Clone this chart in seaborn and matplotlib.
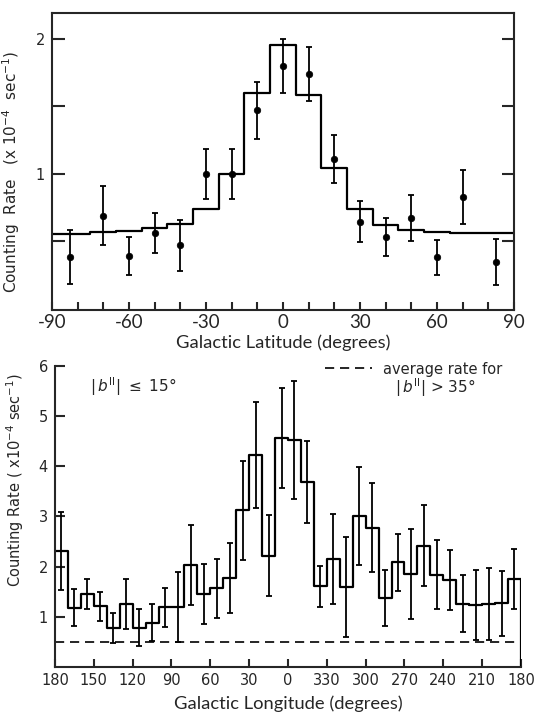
import numpy as np
import matplotlib
matplotlib.use("Agg")
import matplotlib.pyplot as plt
import seaborn as sns
from matplotlib.ticker import FixedLocator, FixedFormatter

# ---------------- data: top panel (galactic latitude) ----------------
lat_edges = [-90, -75, -65, -55, -45, -35, -25, -15, -5, 5, 15, 25, 35, 45, 55, 65, 90]
lat_hist = [0.55, 0.565, 0.575, 0.595, 0.63, 0.74, 1.00, 1.60, 1.95, 1.58, 1.04,
            0.74, 0.62, 0.58, 0.57, 0.56]
lat_pts = [-83, -70, -60, -50, -40, -30, -20, -10, 0, 10, 20, 30, 40, 50, 60, 70, 83]
lat_rate = [0.38, 0.69, 0.39, 0.56, 0.47, 1.00, 1.00, 1.47, 1.80, 1.74, 1.11,
            0.645, 0.53, 0.67, 0.38, 0.83, 0.345]
lat_err = [0.20, 0.22, 0.14, 0.15, 0.19, 0.185, 0.185, 0.21, 0.20, 0.20, 0.18,
           0.15, 0.14, 0.17, 0.13, 0.20, 0.17]
lat_ticks = [-90, -60, -30, 0, 30, 60, 90]

# ---------------- data: bottom panel (galactic longitude) ----------------
lon_centers = [175, 165, 155, 145, 135, 125, 115, 105, 95, 85, 75, 65, 55, 45, 35, 25, 15, 5,
               355, 345, 335, 325, 315, 305, 295, 285, 275, 265, 255, 245, 235, 225, 215, 205,
               195, 185]
lon_rate = [2.31, 1.18, 1.45, 1.21, 0.78, 1.25, 0.78, 0.88, 1.19, 1.19, 2.04, 1.45, 1.57, 1.77,
            3.12, 4.22, 2.22, 4.56, 4.53, 3.69, 1.61, 2.15, 1.59, 3.01, 2.78, 1.38, 2.09, 1.85,
            2.42, 1.84, 1.73, 1.26, 1.23, 1.26, 1.27, 1.76]
lon_err = [0.77, 0.37, 0.30, 0.29, 0.30, 0.50, 0.37, 0.37, 0.39, 0.70, 0.80, 0.60, 0.59, 0.70,
           0.99, 1.06, 0.80, 1.00, 1.18, 0.81, 0.41, 0.90, 1.00, 0.98, 0.89, 0.56, 0.57, 0.90,
           0.80, 0.69, 0.60, 0.57, 0.70, 0.72, 0.65, 0.60]
lon_ticklabels = [180, 150, 120, 90, 60, 30, 0, 330, 300, 270, 240, 210, 180]
avg_rate = 0.5

# ---------------- style ----------------
sns.set_style("white")
plt.rcParams["font.family"] = ["DejaVu Sans"]
plt.rcParams["axes.unicode_minus"] = False
plt.rcParams["axes.linewidth"] = 1.5

fig = plt.figure(figsize=(5.45, 7.12), dpi=100)
ax1 = fig.add_axes([0.0954, 0.5646, 0.8477, 0.4171])
ax2 = fig.add_axes([0.1009, 0.0632, 0.8550, 0.4228])

# ---------------- top panel ----------------
lat_centers = [(a + b) / 2 for a, b in zip(lat_edges[:-1], lat_edges[1:])]
sns.histplot(x=lat_centers, weights=lat_hist, bins=lat_edges, element="step",
             fill=False, color="black", linewidth=1.6, ax=ax1)
ax1.errorbar(lat_pts, lat_rate, yerr=lat_err, fmt="none", ecolor="black",
             elinewidth=1.3, capsize=2.5, capthick=1.3)
sns.scatterplot(x=lat_pts, y=lat_rate, color="black", s=22, edgecolor="black",
                linewidth=0.5, ax=ax1, zorder=3)
ax1.set_xlim(-90, 90)
ax1.set_ylim(-0.01, 2.19)
ax1.xaxis.set_major_locator(FixedLocator(lat_ticks))
ax1.xaxis.set_major_formatter(FixedFormatter([str(t) for t in lat_ticks]))
ax1.xaxis.set_minor_locator(FixedLocator(list(range(-80, 90, 10))))
ax1.yaxis.set_major_locator(FixedLocator([1, 2]))
ax1.yaxis.set_major_formatter(FixedFormatter(["1", "2"]))
ax1.yaxis.set_minor_locator(FixedLocator([0.5, 1.5]))
ax1.tick_params(axis="y", which="both", direction="in", length=9, width=1.5,
                left=True, right=True, labelsize=10.5, pad=5)
ax1.tick_params(axis="x", which="both", direction="in", length=6, width=1.5,
                bottom=True, top=False, labelsize=13.5, pad=3)
for lab in ax1.get_xticklabels():
    lab.set_fontfamily("Lato")
for sp in ax1.spines.values():
    sp.set_visible(True)
    sp.set_linewidth(1.5)
ax1.set_xlabel("Galactic Latitude (degrees)", fontsize=13.2, family="Lato", labelpad=2)
ax1.set_ylabel("Counting  Rate   (x 10$^{-4}$  sec$^{-1}$)", fontsize=11)
ax1.yaxis.set_label_coords(-0.065, 0.465)

# ---------------- bottom panel ----------------
lon_pos = [float((180 - l) % 360) for l in lon_centers]
lon_edges = list(range(0, 361, 10))
sns.histplot(x=lon_pos, weights=lon_rate, bins=lon_edges, element="step",
             fill=False, color="black", linewidth=1.6, ax=ax2)
ax2.vlines(lon_edges[-1], 0, lon_rate[-1], color="black", linewidth=1.6)
ax2.errorbar(lon_pos, lon_rate, yerr=lon_err, fmt="none", ecolor="black",
             elinewidth=1.3, capsize=2.5, capthick=1.3)
ax2.axhline(avg_rate, color="black", linewidth=1.2, linestyle=(0, (5.5, 3.5)))
ax2.set_xlim(0, 360)
ax2.set_ylim(0, 6)
ax2.xaxis.set_major_locator(FixedLocator(list(range(0, 361, 30))))
ax2.xaxis.set_major_formatter(FixedFormatter([str(t) for t in lon_ticklabels]))
ax2.yaxis.set_major_locator(FixedLocator([1, 2, 3, 4, 5, 6]))
ax2.yaxis.set_major_formatter(FixedFormatter(["1", "2", "3", "4", "5", "6"]))
ax2.tick_params(axis="y", direction="in", length=7, width=1.5, left=True, right=False,
                labelsize=10.5, pad=5)
ax2.tick_params(axis="x", direction="in", length=6, width=1.5, bottom=True, top=False,
                labelsize=10.5, pad=4)
ax2.spines["top"].set_visible(False)
ax2.spines["right"].set_visible(False)
ax2.spines["left"].set_linewidth(1.5)
ax2.spines["bottom"].set_linewidth(1.5)
ax2.set_xlabel("Galactic Longitude (degrees)", fontsize=13.2, family="Lato", labelpad=6)
ax2.set_ylabel("Counting Rate ( x10$^{-4}$ sec$^{-1}$)", fontsize=10.5)
ax2.yaxis.set_label_coords(-0.062, 0.62)

# annotations
ax2.text(0.075, 0.93, r"$|\,b^{\mathrm{II}}|$ $\leq$ 15°", transform=ax2.transAxes,
         fontsize=11, va="center", ha="left")
ax2.plot([0.579, 0.680], [0.993, 0.993], transform=ax2.transAxes, color="black",
         linewidth=1.2, linestyle=(0, (5.5, 3.5)), clip_on=False)
ax2.text(0.704, 0.987, "average rate for", transform=ax2.transAxes, fontsize=10.5,
         va="center", ha="left")
ax2.text(0.730, 0.927, r"$|\,b^{\mathrm{II}}|$ > 35°", transform=ax2.transAxes,
         fontsize=11, va="center", ha="left")

fig.savefig("out.png", dpi=100)
